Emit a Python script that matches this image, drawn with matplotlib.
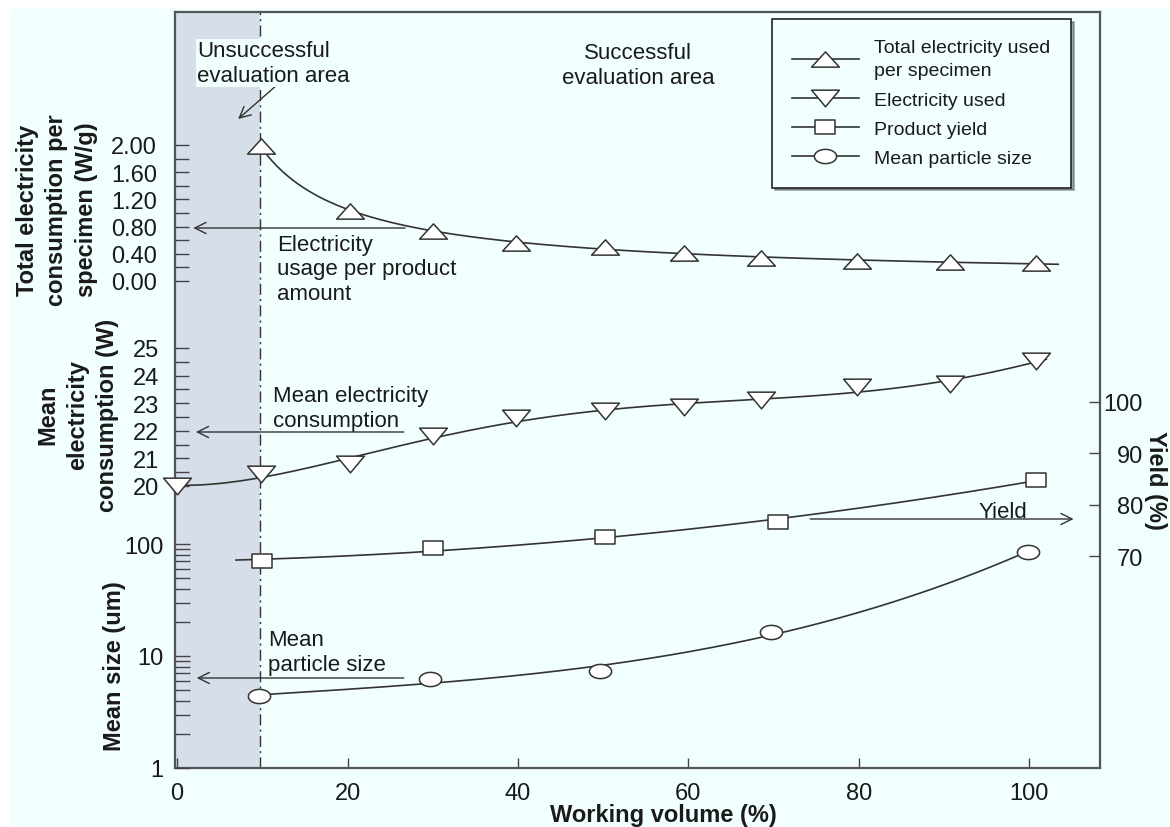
import numpy as np
import matplotlib
matplotlib.use("Agg")
import matplotlib.pyplot as plt
from matplotlib.lines import Line2D
from matplotlib.patches import Rectangle
from matplotlib.path import Path
from matplotlib.ticker import MultipleLocator, FixedLocator, LogLocator, NullFormatter, FuncFormatter

# -------------------------
# Data
# -------------------------
vol_spec = [9.8, 20.3, 30.0, 39.8, 50.2, 59.5, 68.5, 79.8, 90.7, 100.8]
elec_per_spec = [1.98, 1.03, 0.74, 0.56, 0.50, 0.41, 0.34, 0.29, 0.28, 0.26]

vol_elec = [0.0, 9.8, 20.3, 30.0, 39.8, 50.2, 59.5, 68.5, 79.8, 90.7, 100.8]
elec_used = [20.0, 20.43, 20.8, 21.81, 22.46, 22.72, 22.86, 23.12, 23.59, 23.7, 24.53]

vol_yield = [10.0, 30.0, 50.2, 70.5, 100.8]
yield_pct = [69.0, 71.6, 73.7, 76.6, 84.9]

vol_size = [9.6, 29.7, 49.6, 69.7, 99.8]
particle_size = [4.4, 6.2, 7.3, 16.4, 85.0]

x_ticks = [0, 20, 40, 60, 80, 100]
spec_ticks = [0.0, 0.4, 0.8, 1.2, 1.6, 2.0]
elec_ticks = [20, 21, 22, 23, 24, 25]
yield_ticks = [70, 80, 90, 100]

legend_labels = ["Total electricity used\nper specimen", "Electricity used",
                 "Product yield", "Mean particle size"]

# -------------------------
# Style
# -------------------------
plt.rcParams["font.family"] = ["Liberation Sans", "DejaVu Sans"]
BG = "#F2FFFF"
SHADE = "#D6DEEA"
LINE = "#333333"
EDGE = "#333333"
TXT = "#1a1a1a"
FS_TICK = 17
FS_NOTE = 16

W_PX, H_PX = 1170, 828
L, R, T, B = 175, 1100, 13, 769      # plot frame in pixels
XLIM = (-0.25, 108.3)


def fx(px):
    return px / W_PX


def fy(py):
    return 1 - py / H_PX


def trend(x, y, deg, x_start, x_end, logx=False, logy=False, n=300):
    # smooth fitted trend line drawn through the markers
    x = np.log(np.asarray(x, float)) if logx else np.asarray(x, float)
    y = np.log10(np.asarray(y, float)) if logy else np.asarray(y, float)
    c = np.polyfit(x, y, deg)
    xs = np.linspace(x_start, x_end, n)
    ys = np.polyval(c, np.log(xs) if logx else xs)
    return xs, (10**ys if logy else ys)


def closed(verts):
    return Path(verts + [verts[0]], closed=True)


theta = np.linspace(0, 2 * np.pi, 48, endpoint=False)
m_up = closed([(-1, -0.55), (0, 0.55), (1, -0.55)])
m_down = closed([(-1, 0.6), (1, 0.6), (0, -0.6)])
m_rect = closed([(-1, -0.66), (1, -0.66), (1, 0.66), (-1, 0.66)])
m_ell = closed([(np.cos(a), 0.64 * np.sin(a)) for a in theta])

mk = dict(mfc="white", mec=EDGE, mew=1.1)


def draw(ax, x, y, marker, ms, deg, x0, x1, logx=False, logy=False):
    xs, ys = trend(x, y, deg, x0, x1, logx, logy)
    ax.plot(xs, ys, color=LINE, lw=1.2, clip_on=False, zorder=2)
    ax.plot(x, y, ls="none", marker=marker, ms=ms, clip_on=False, zorder=3, **mk)


def sub_axes(top_px, bot_px, right=False):
    a = fig.add_axes([fx(L), fy(bot_px), fx(R - L), (bot_px - top_px) / H_PX])
    a.set_facecolor("none")
    for s in a.spines.values():
        s.set_visible(False)
    a.set_xlim(*XLIM)
    a.set_xticks([])
    if right:
        a.yaxis.tick_right()
    return a


# -------------------------
# Figure / frame
# -------------------------
fig = plt.figure(figsize=(W_PX / 100, H_PX / 100), dpi=100, facecolor="white")
fig.patches.append(Rectangle((fx(11), fy(826)), 1, fy(10) - fy(826),
                             transform=fig.transFigure, color=BG, zorder=-1))

ax = fig.add_axes([fx(L), fy(B), fx(R - L), (B - T) / H_PX])
ax.set_facecolor("none")
ax.set_xlim(*XLIM)
ax.set_ylim(0, 1)
ax.set_yticks([])
for s in ax.spines.values():
    s.set_color("#555555")
    s.set_linewidth(1.6)
ax.set_xticks(x_ticks)
ax.tick_params(axis="x", direction="in", length=7, width=1, color="#444444",
               labelsize=FS_TICK, labelcolor=TXT, pad=10)
ax.set_xlabel("Working volume (%)", fontsize=17, fontweight="bold", color=TXT, labelpad=0)
ax.xaxis.set_label_coords((663 - L) / (R - L), -0.046)

# unsuccessful evaluation area
ax.axvspan(XLIM[0], 9.75, color=SHADE, lw=0, zorder=0)
ax.axvline(9.75, color="#333333", lw=1, ls=(0, (8, 3, 1.5, 3)), zorder=1)

xt = ax.get_xaxis_transform()


def yf(py):
    return (B - py) / (B - T)


ax.text(2.35, yf(64), "Unsuccessful\nevaluation area", transform=xt, fontsize=FS_NOTE,
        color=TXT, va="center", ha="left", zorder=4,
        bbox=dict(facecolor=BG, edgecolor="none", pad=1))
ax.text(54.1, yf(66), "Successful\nevaluation area", transform=xt, fontsize=FS_NOTE,
        color=TXT, va="center", ha="center", multialignment="center")
ax.text(11.7, yf(270), "Electricity\nusage per product\namount", transform=xt,
        fontsize=FS_NOTE, color=TXT, va="center", ha="left")
ax.text(11.3, yf(409), "Mean electricity\nconsumption", transform=xt,
        fontsize=FS_NOTE, color=TXT, va="center", ha="left")
ax.text(10.7, yf(653), "Mean\nparticle size", transform=xt,
        fontsize=FS_NOTE, color=TXT, va="center", ha="left")
ax.text(96.9, yf(512), "Yield", transform=xt, fontsize=FS_NOTE, color=TXT,
        va="center", ha="center")

arrow = dict(arrowstyle="->", color="#333333", lw=1, shrinkA=0, shrinkB=0, mutation_scale=20)
for tail, tip in [((11.85, yf(85)), (7.16, yf(120))),
                  ((26.76, yf(229)), (1.9, yf(229))),
                  ((26.6, yf(433)), (2.2, yf(433))),
                  ((26.6, yf(679)), (2.3, yf(679))),
                  ((74.3, yf(520)), (105.2, yf(520)))]:
    ax.annotate("", xy=tip, xytext=tail, xycoords=xt, textcoords=xt, arrowprops=arrow)

# -------------------------
# Series
# -------------------------
# total electricity per specimen
a1 = sub_axes(146, 282)
a1.set_ylim(0, 2)
a1.yaxis.set_major_locator(FixedLocator(spec_ticks))
a1.yaxis.set_minor_locator(MultipleLocator(0.2))
a1.yaxis.set_major_formatter(FuncFormatter(lambda v, p: f"{v:.2f}"))
a1.tick_params(axis="y", which="both", direction="in", length=10, width=1,
               color="#444444", labelsize=FS_TICK, labelcolor=TXT, pad=13)
draw(a1, vol_spec, elec_per_spec, m_up, 20, 2, vol_spec[0], 103.4, logx=True, logy=True)

# mean electricity consumption
a2 = sub_axes(349, 487)
a2.set_ylim(20, 25)
a2.yaxis.set_major_locator(FixedLocator(elec_ticks))
a2.yaxis.set_minor_locator(MultipleLocator(0.5))
a2.tick_params(axis="y", which="both", direction="in", length=10, width=1,
               color="#444444", labelsize=FS_TICK, labelcolor=TXT, pad=11.5)
draw(a2, vol_elec, elec_used, m_down, 20, 5, vol_elec[0], 102.0)

# yield (right axis)
a3 = sub_axes(403, 557, right=True)
a3.set_ylim(70, 100)
a3.yaxis.set_major_locator(FixedLocator(yield_ticks))
a3.tick_params(axis="y", direction="in", length=8, width=1, color="#444444",
               labelsize=FS_TICK, labelcolor=TXT, pad=31)
for lab in a3.get_yticklabels():
    lab.set_horizontalalignment("right")
draw(a3, vol_yield, yield_pct, m_rect, 15, 2, 6.9, vol_yield[-1])

# mean particle size (log)
a4 = sub_axes(545, 769)
a4.set_yscale("log")
a4.set_ylim(1, 100)
a4.yaxis.set_major_locator(LogLocator(base=10, numticks=5))
a4.yaxis.set_minor_locator(LogLocator(base=10, subs=np.arange(2, 10), numticks=10))
a4.yaxis.set_major_formatter(FuncFormatter(lambda v, p: f"{v:g}"))
a4.yaxis.set_minor_formatter(NullFormatter())
a4.tick_params(axis="y", which="both", direction="in", length=11, width=1,
               color="#444444", labelsize=FS_TICK, labelcolor=TXT, pad=8.5)
draw(a4, vol_size, particle_size, m_ell, 16, 3, vol_size[0], vol_size[-1], logy=True)

# -------------------------
# Axis titles
# -------------------------
ylab = dict(fontsize=17, fontweight="bold", color=TXT, ha="center", va="center",
            multialignment="center", linespacing=1.38)
fig.text(fx(57), fy(210), "Total electricity\nconsumption per\nspecimen (W/g)", rotation=90, **ylab)
fig.text(fx(78), fy(415), "Mean\nelectricity\nconsumption (W)", rotation=90, **ylab)
fig.text(fx(114), fy(666), "Mean size (um)", rotation=90, **ylab)
fig.text(fx(1155), fy(480), "Yield (%)", rotation=270, **ylab)

# -------------------------
# Legend
# -------------------------
handles = [Line2D([0], [0], color=LINE, lw=1.2, marker=m, ms=s, **mk)
           for m, s in [(m_up, 20), (m_down, 20), (m_rect, 15), (m_ell, 16)]]
leg = ax.legend(handles, legend_labels, loc="upper left",
                bbox_to_anchor=((772 - L) / (R - L), yf(20)), frameon=True,
                fancybox=False, shadow=True, fontsize=14, handlelength=3.4,
                handletextpad=0.8, borderpad=1.05, labelspacing=0.6, borderaxespad=0,
                edgecolor="#222222", facecolor=BG, framealpha=1)
leg.get_frame().set_linewidth(1.2)
for t in leg.get_texts():
    t.set_color(TXT)
    t.set_linespacing(1.45)

fig.savefig("out.png", dpi=100, facecolor=fig.get_facecolor())
